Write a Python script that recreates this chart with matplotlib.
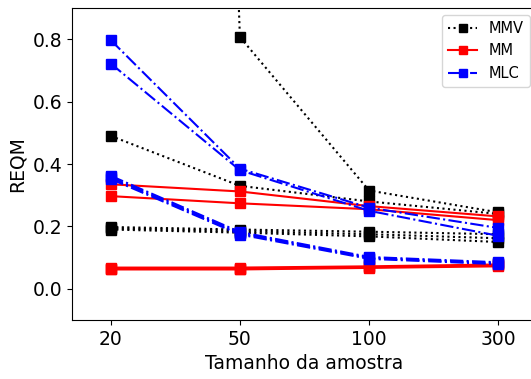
import numpy as np
import matplotlib
matplotlib.use("Agg")
import matplotlib.pyplot as plt

# tamanhos de amostra (eixo x categorico)
sizes = ['20', '50', '100', '300']

# REQM por cenario, um vetor por linha
mmv = [
    [12.0, 0.807, 0.315, 0.245],
    [0.490, 0.330, 0.280, 0.240],
    [0.198, 0.190, 0.183, 0.175],
    [0.194, 0.185, 0.175, 0.162],
    [0.190, 0.180, 0.168, 0.150],
]
mm = [
    [0.335, 0.312, 0.265, 0.232],
    [0.297, 0.274, 0.255, 0.220],
    [0.068, 0.068, 0.072, 0.078],
    [0.065, 0.065, 0.069, 0.075],
    [0.062, 0.062, 0.067, 0.072],
]
mlc = [
    [0.797, 0.385, 0.260, 0.195],
    [0.722, 0.380, 0.250, 0.170],
    [0.362, 0.182, 0.102, 0.085],
    [0.357, 0.178, 0.099, 0.082],
    [0.352, 0.174, 0.096, 0.079],
]

fig = plt.figure(figsize=(5.31, 3.79), dpi=100)
ax = fig.add_axes([72/531., 59/379., 465/531., 312/379.])

x = np.arange(len(sizes))
groups = [(mmv, 'k', ':', 'MMV'), (mm, 'r', '-', 'MM'), (mlc, 'b', '-.', 'MLC')]
for series, col, ls, lab in groups:
    for i, vals in enumerate(series):
        ax.plot(x, vals, color=col, linestyle=ls, marker='s', markersize=6.5,
                linewidth=1.5, label=lab if i == 0 else None)

ax.set_xticks(x)
ax.set_xticklabels(sizes)
ax.set_xlim(-0.3, 3.3)
ax.set_ylim(-0.1, 0.9)
ax.set_yticks([0.0, 0.2, 0.4, 0.6, 0.8])
ax.tick_params(labelsize=13.5)
ax.set_xlabel('Tamanho da amostra', fontsize=13.5)
ax.set_ylabel('REQM', fontsize=13.5)
ax.legend(loc='upper right', fontsize=10.5, markerscale=0.85)

fig.savefig('out.png', dpi=100)
